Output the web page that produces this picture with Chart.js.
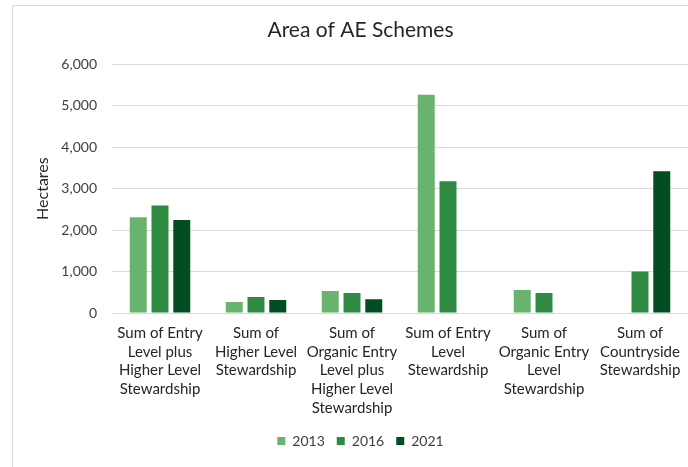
<!DOCTYPE html>
<html>
<head>
<meta charset="utf-8">
<script src="https://cdn.jsdelivr.net/npm/chart.js@4.4.1/dist/chart.umd.min.js"></script>
<style>
  html, body { margin: 0; padding: 0; background: #fff; overflow: hidden; width: 688px; height: 467px; }
  #frame {
    position: absolute; left: 12px; top: 5px; width: 676px; height: 462px;
    border-left: 1px solid #d9d9d9; border-top: 1px solid #d9d9d9; overflow: hidden;
  }
  #frame canvas { display: block; }
</style>
</head>
<body>
<div id="frame"><canvas id="chart" width="695" height="462"></canvas></div>
<script>
// Area in agri-environment schemes (hectares), by scheme and year
const categories = [
  ["Sum of Entry", "Level plus", "Higher Level", "Stewardship"],
  ["Sum of", "Higher Level", "Stewardship"],
  ["Sum of", "Organic Entry", "Level plus", "Higher Level", "Stewardship"],
  ["Sum of Entry", "Level", "Stewardship"],
  ["Sum of", "Organic Entry", "Level", "Stewardship"],
  ["Sum of", "Countryside", "Stewardship"]
];
const years = ["2013", "2016", "2021"];
const values2013 = [2310, 265, 530, 5265, 555, null];
const values2016 = [2595, 385, 480, 3180, 480, 1000];
const values2021 = [2245, 315, 330, null, null, 3420];
const yTicks = [0, 1000, 2000, 3000, 4000, 5000, 6000];

const colors = ["#69b36f", "#2e8a40", "#024d21"];
const font = "Lato, 'Open Sans', sans-serif";

const series = [values2013, values2016, values2021];

new Chart(document.getElementById("chart"), {
  type: "bar",
  data: {
    labels: categories,
    datasets: years.map((y, i) => ({
      label: y,
      data: series[i],
      backgroundColor: colors[i],
      borderWidth: 0,
      categoryPercentage: 0.68,
      barPercentage: 0.78
    }))
  },
  options: {
    responsive: false,
    animation: false,
    layout: { padding: { left: 20, right: 20, top: 0, bottom: 10 } },
    plugins: {
      title: {
        display: true,
        text: "Area of AE Schemes",
        color: "#262626",
        font: { family: font, size: 21, weight: "normal" },
        padding: { top: 12, bottom: 21 }
      },
      legend: {
        position: "bottom",
        labels: {
          color: "#404040",
          font: { family: font, size: 14 },
          boxWidth: 8,
          boxHeight: 8,
          padding: 12
        }
      },
      tooltip: { enabled: false }
    },
    scales: {
      x: {
        afterFit: (s) => { s.height = 109; },
        grid: { display: false },
        border: { display: true, color: "#d9d9d9", width: 1 },
        ticks: {
          color: "#262626",
          font: { family: font, size: 15, lineHeight: 1.24 },
          maxRotation: 0,
          autoSkip: false,
          padding: 3
        }
      },
      y: {
        min: 0,
        max: 6000,
        afterFit: (s) => { s.width = 79; },
        afterBuildTicks: (s) => { s.ticks = yTicks.map(v => ({ value: v })); },
        grid: { color: "#d9d9d9", drawTicks: false },
        border: { display: false },
        ticks: {
          color: "#404040",
          font: { family: font, size: 14 },
          padding: 15,
          callback: (v) => v.toLocaleString("en-US")
        },
        title: {
          display: true,
          text: "Hectares",
          color: "#262626",
          font: { family: font, size: 16 },
          padding: { top: 0, bottom: 0 }
        }
      }
    }
  }
});
</script>
</body>
</html>
